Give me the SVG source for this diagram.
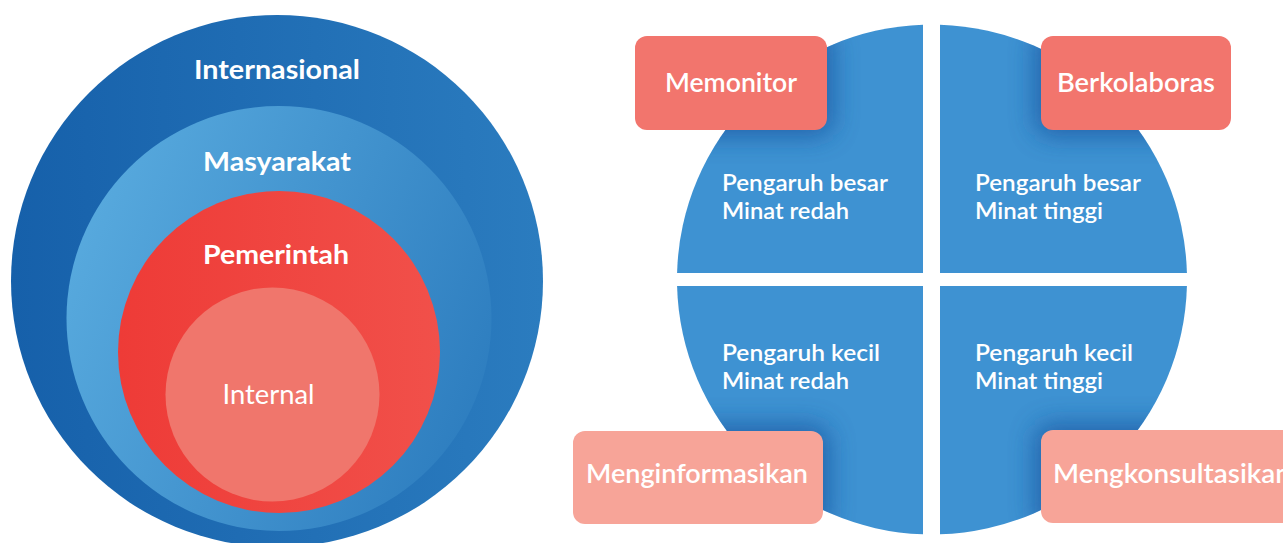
<svg xmlns="http://www.w3.org/2000/svg" width="1283" height="543" viewBox="0 0 1283 543">
  <style>
    .lbl { font-family: Lato, "Liberation Sans", sans-serif; fill: #ffffff; }
    .ring { font-size: 27px; font-weight: 700; }
    .inner { font-size: 26px; font-weight: 400; }
    .box { font-size: 26px; font-weight: 600; }
    .quad { font-size: 22px; font-weight: 600; }
    .qfill { fill: #3e92d2; }
    .dark { fill: #f2756d; }
    .light { fill: #f7a498; }
    .shadow { fill: #1d5ba4; opacity: 0.85; }
  </style>
  <defs>
    <linearGradient id="gOuter" x1="0" y1="0" x2="1" y2="0">
      <stop offset="0" stop-color="#1660aa"/>
      <stop offset="1" stop-color="#2b7cbf"/>
    </linearGradient>
    <linearGradient id="gSoc" x1="0" y1="0.3" x2="1" y2="0.7">
      <stop offset="0" stop-color="#58aade"/>
      <stop offset="1" stop-color="#2d7dbf"/>
    </linearGradient>
    <linearGradient id="gGov" x1="0" y1="0" x2="1" y2="0">
      <stop offset="0" stop-color="#ee3b37"/>
      <stop offset="1" stop-color="#f1504a"/>
    </linearGradient>
    <filter id="blur" filterUnits="userSpaceOnUse" x="0" y="0" width="1283" height="543">
      <feGaussianBlur stdDeviation="13"/>
    </filter>
    <path id="pTL" d="M923,273 L923,24.66 A255,255 0 0 0 677.08,273 Z"/>
    <path id="pTR" d="M940,273 L940,24.63 A255,255 0 0 1 1186.92,273 Z"/>
    <path id="pBL" d="M923,286 L677.08,286 A255,255 0 0 0 923,534.34 Z"/>
    <path id="pBR" d="M940,286 L1186.92,286 A255,255 0 0 1 940,534.37 Z"/>
    <clipPath id="cTL"><use href="#pTL"/></clipPath>
    <clipPath id="cTR"><use href="#pTR"/></clipPath>
    <clipPath id="cBL"><use href="#pBL"/></clipPath>
    <clipPath id="cBR"><use href="#pBR"/></clipPath>
  </defs>

  <rect width="1283" height="543" fill="#ffffff"/>

  <!-- Left: concentric circles -->
  <g id="internasional">
    <circle cx="277" cy="281" r="266" fill="url(#gOuter)"/>
    <text class="lbl ring" x="277" y="79" text-anchor="middle" textLength="166" lengthAdjust="spacingAndGlyphs">Internasional</text>
  </g>
  <g id="masyarakat">
    <circle cx="279" cy="318.5" r="212.5" fill="url(#gSoc)"/>
    <text class="lbl ring" x="277" y="171" text-anchor="middle" textLength="148" lengthAdjust="spacingAndGlyphs">Masyarakat</text>
  </g>
  <g id="pemerintah">
    <circle cx="279" cy="352" r="161" fill="url(#gGov)"/>
    <text class="lbl ring" x="276" y="264" text-anchor="middle" textLength="146" lengthAdjust="spacingAndGlyphs">Pemerintah</text>
  </g>
  <g id="internal">
    <circle cx="272.5" cy="394.5" r="107" fill="#f0766c"/>
    <text class="lbl inner" x="268.5" y="404" text-anchor="middle" textLength="92" lengthAdjust="spacingAndGlyphs">Internal</text>
  </g>

  <!-- Right: quadrants -->
  <g id="q-tl">
    <use href="#pTL" class="qfill"/>
    <g clip-path="url(#cTL)"><rect class="shadow" x="629" y="30" width="204" height="106" rx="16" filter="url(#blur)"/></g>
    <text class="lbl quad" x="722" y="191" textLength="166" lengthAdjust="spacingAndGlyphs">Pengaruh besar</text>
    <text class="lbl quad" x="722" y="219" textLength="127" lengthAdjust="spacingAndGlyphs">Minat redah</text>
  </g>
  <g id="q-tr">
    <use href="#pTR" class="qfill"/>
    <g clip-path="url(#cTR)"><rect class="shadow" x="1035" y="30" width="202" height="106" rx="16" filter="url(#blur)"/></g>
    <text class="lbl quad" x="975" y="191" textLength="166" lengthAdjust="spacingAndGlyphs">Pengaruh besar</text>
    <text class="lbl quad" x="975" y="219" textLength="128" lengthAdjust="spacingAndGlyphs">Minat tinggi</text>
  </g>
  <g id="q-bl">
    <use href="#pBL" class="qfill"/>
    <g clip-path="url(#cBL)"><rect class="shadow" x="567" y="425" width="262" height="105" rx="16" filter="url(#blur)"/></g>
    <text class="lbl quad" x="722" y="361" textLength="158" lengthAdjust="spacingAndGlyphs">Pengaruh kecil</text>
    <text class="lbl quad" x="722" y="389" textLength="127" lengthAdjust="spacingAndGlyphs">Minat redah</text>
  </g>
  <g id="q-br">
    <use href="#pBR" class="qfill"/>
    <g clip-path="url(#cBR)"><rect class="shadow" x="1035" y="424" width="272" height="105" rx="16" filter="url(#blur)"/></g>
    <text class="lbl quad" x="975" y="361" textLength="158" lengthAdjust="spacingAndGlyphs">Pengaruh kecil</text>
    <text class="lbl quad" x="975" y="389" textLength="128" lengthAdjust="spacingAndGlyphs">Minat tinggi</text>
  </g>

  <!-- Labels boxes -->
  <g id="memonitor">
    <rect class="dark" x="635" y="36" width="192" height="94" rx="12"/>
    <text class="lbl box" x="731" y="92" text-anchor="middle" textLength="132" lengthAdjust="spacingAndGlyphs">Memonitor</text>
  </g>
  <g id="berkolaboras">
    <rect class="dark" x="1041" y="36" width="190" height="94" rx="12"/>
    <text class="lbl box" x="1136" y="92" text-anchor="middle" textLength="158" lengthAdjust="spacingAndGlyphs">Berkolaboras</text>
  </g>
  <g id="menginformasikan">
    <rect class="light" x="573" y="431" width="250" height="93" rx="12"/>
    <text class="lbl box" x="697" y="483" text-anchor="middle" textLength="222" lengthAdjust="spacingAndGlyphs">Menginformasikan</text>
  </g>
  <g id="mengkonsultasikan">
    <rect class="light" x="1041" y="430" width="260" height="93" rx="12"/>
    <text class="lbl box" x="1053" y="483" textLength="238" lengthAdjust="spacingAndGlyphs">Mengkonsultasikan</text>
  </g>

  <g id="connectors"/>
</svg>
